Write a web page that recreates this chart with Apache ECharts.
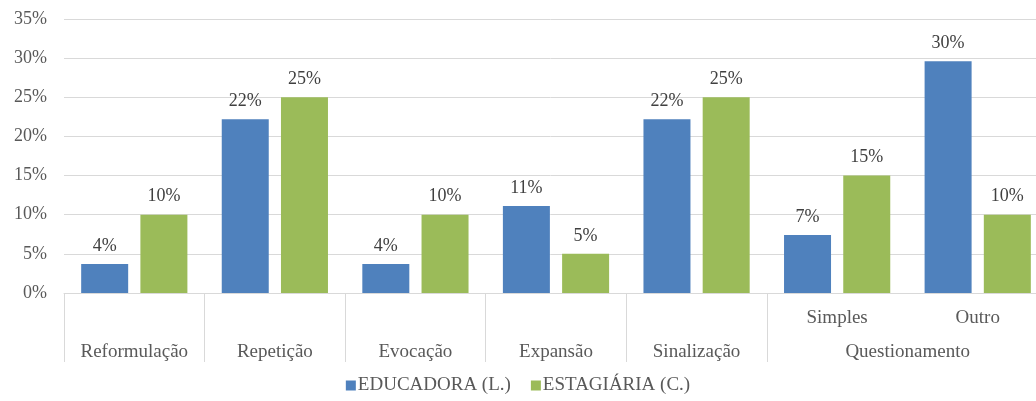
<!DOCTYPE html>
<html>
<head>
<meta charset="utf-8">
<script src="https://cdn.jsdelivr.net/npm/echarts@6/dist/echarts.min.js"></script>
<style>html,body{margin:0;padding:0;background:#fff}#c{width:1036px;height:401px}</style>
</head>
<body>
<div id="c"></div>
<script>
const categories = ['Reformulação','Repetição','Evocação','Expansão','Sinalização','Simples','Outro'];
const subLabels = ['', '', '', '', '', 'Simples', 'Outro'];
const groupLabels = ['Reformulação','Repetição','Evocação','Expansão','Sinalização','Questionamento',''];
const educadora = [3.7, 22.2, 3.7, 11.1, 22.2, 7.4, 29.6];
const estagiaria = [10, 25, 10, 5, 25, 15, 10];
const yTicks = [0, 5, 10, 15, 20, 25, 30, 35];

const FONT = '"Liberation Serif", "DejaVu Serif", serif';
const chart = echarts.init(document.getElementById('c'));
const labelOpt = {
  show: true, position: 'top', distance: 9,
  fontFamily: FONT, fontSize: 18, color: '#404040',
  formatter: p => Math.round(p.value) + '%'
};
chart.setOption({
  animation: false,
  grid: { left: 64, top: 19, width: 984, height: 274, outerBoundsMode: 'none', containLabel: false },
  legend: {
    bottom: 1, left: 'center',
    itemWidth: 10, itemHeight: 10, itemGap: 20,
    icon: 'rect',
    textStyle: { fontFamily: FONT, fontSize: 19, color: '#595959', padding: [0,0,0,-3] },
    data: ['EDUCADORA (L.)', 'ESTAGIÁRIA (C.)']
  },
  xAxis: [
    {
      type: 'category', data: categories, position: 'bottom',
      axisLine: { show: true, lineStyle: { color: '#d9d9d9', width: 1 } },
      axisTick: { show: true, length: 69, lineStyle: { color: '#d9d9d9' },
        interval: (i) => i !== 6 },
      axisLabel: { margin: 16, fontFamily: FONT, fontSize: 19, color: '#595959',
        formatter: (v, i) => subLabels[i] }
    },
    {
      type: 'category', data: groupLabels, position: 'bottom', gridIndex: 0,
      axisLine: { show: false }, axisTick: { show: false },
      axisLabel: { margin: 50, interval: 0, fontFamily: FONT, fontSize: 19, color: '#595959',
        formatter: (v) => v === 'Questionamento' ? '{q|' + v + '}' : v,
        rich: { q: { fontFamily: FONT, fontSize: 19, color: '#595959', padding: [0, 0, 0, 141] } } }
    }
  ],
  yAxis: {
    type: 'value', min: 0, max: 35, interval: 5,
    axisLine: { show: false }, axisTick: { show: false },
    splitLine: { lineStyle: { color: '#d9d9d9', width: 1 } },
    axisLabel: { margin: 17, fontFamily: FONT, fontSize: 18, color: '#595959',
      formatter: v => yTicks.includes(v) ? v + '%' : '' }
  },
  series: [
    { name: 'EDUCADORA (L.)', type: 'bar', data: educadora, barWidth: 47, barGap: '26%',
      itemStyle: { color: '#4F81BD' }, label: labelOpt },
    { name: 'ESTAGIÁRIA (C.)', type: 'bar', data: estagiaria, barWidth: 47, barGap: '26%',
      itemStyle: { color: '#9BBB59' }, label: labelOpt }
  ]
});
</script>
</body>
</html>
